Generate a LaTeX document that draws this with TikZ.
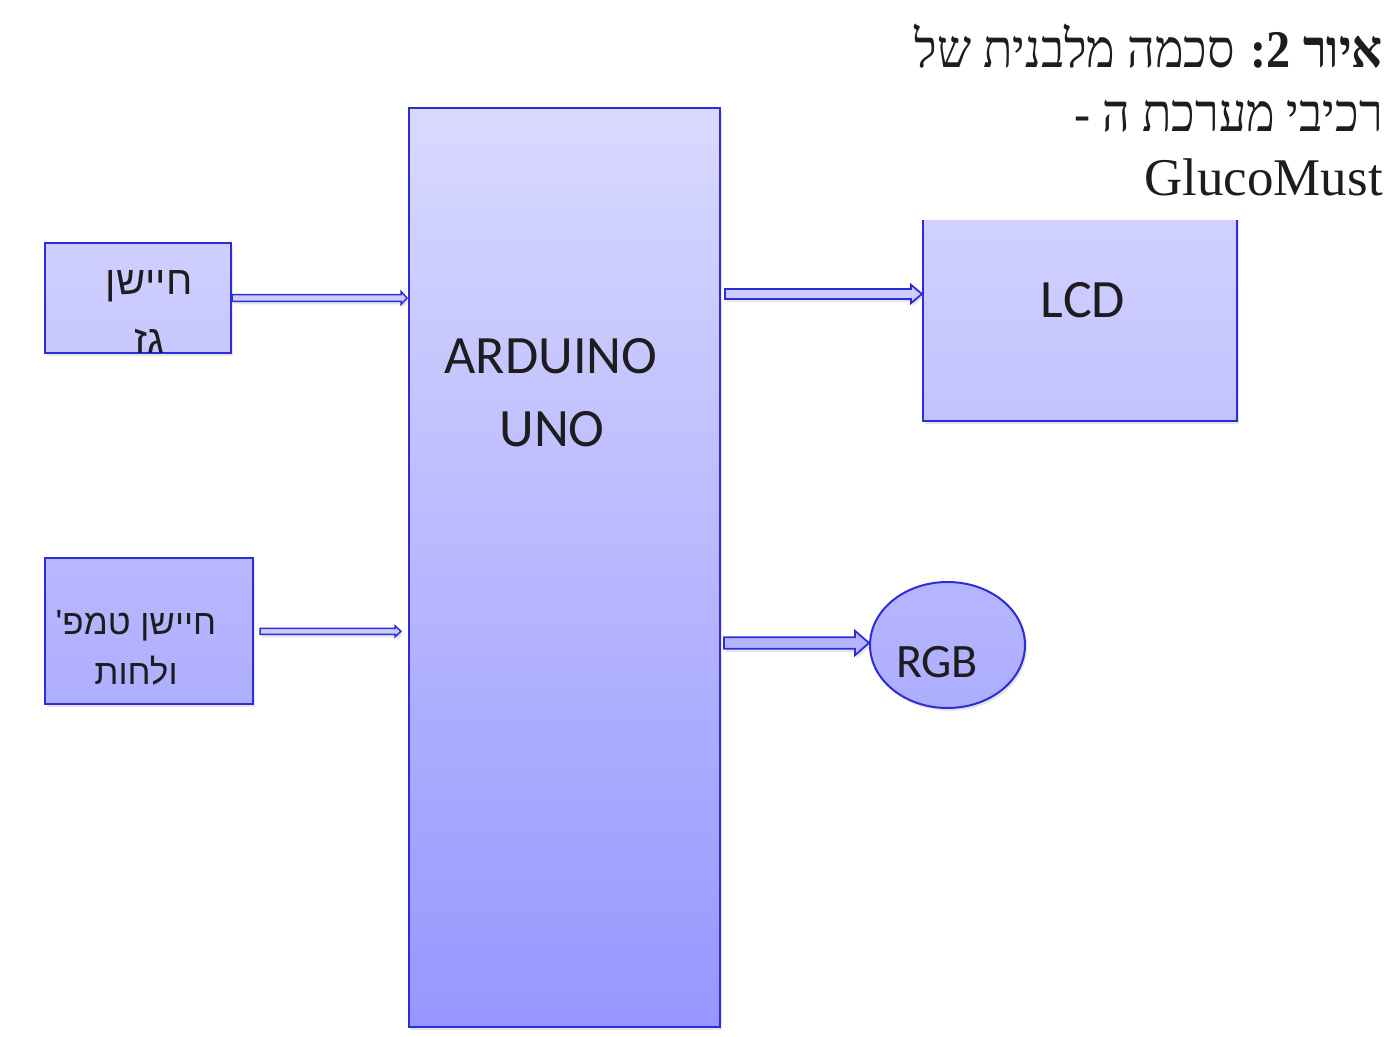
\documentclass[tikz,border=0pt]{standalone}
\usepackage{fontspec}
\setmainfont{Liberation Serif}
\newfontfamily\carl{Carlito}
\newfontfamily\hebsans[Script=Hebrew]{Liberation Sans}
\newfontfamily\hebserif[Script=Hebrew,FakeStretch=0.91]{Liberation Serif}
\TeXXeTstate=1
\usetikzlibrary{calc,shadows,shapes.geometric}
\definecolor{bord}{RGB}{45,45,215}
\definecolor{txtc}{RGB}{30,28,30}
\definecolor{ardtop}{RGB}{217,217,255}
\definecolor{ardbot}{RGB}{150,150,255}
\definecolor{gastop}{RGB}{207,207,255}
\definecolor{gasbot}{RGB}{199,199,255}
\definecolor{tmptop}{RGB}{184,184,255}
\definecolor{tmpbot}{RGB}{174,174,255}
\definecolor{lcdtop}{RGB}{210,210,255}
\definecolor{lcdbot}{RGB}{194,194,255}
\definecolor{rgbtop}{RGB}{182,182,255}
\definecolor{rgbbot}{RGB}{173,173,255}
\definecolor{arrA}{RGB}{204,204,255}
\definecolor{arrB}{RGB}{180,180,255}
\newcommand\blockarrow[6]{%
  \draw[#1] ($(#2)+(0,#4)$) -- ($(#3)+(-#6,#4)$) -- ($(#3)+(-#6,#5)$) -- (#3)
    -- ($(#3)+(-#6,-#5)$) -- ($(#3)+(-#6,-#4)$) -- ($(#2)+(0,-#4)$) -- cycle;}
\begin{document}
\begin{tikzpicture}[x=1pt,y=-1pt,
  shad/.style={drop shadow={opacity=0.2,shadow xshift=2pt,shadow yshift=-3pt}},
  box/.style={draw=bord,line width=2pt,inner sep=0pt,shad},
  txt/.style={inner sep=0pt,anchor=base,text=txtc},
  latin/.style={txt,font=\carl\fontsize{54}{60}\selectfont},
  hebbox/.style={txt,font=\hebsans\fontsize{40}{48}\selectfont},
  ttl/.style={inner sep=0pt,anchor=base east,text=txtc,font=\hebserif\fontsize{53}{64}\selectfont},
  arrthick/.style={draw=bord,line width=1.8pt,line join=miter,shad},
  arrthin/.style={draw=bord,line width=1.5pt,line join=miter,fill=arrA,shad}]
\useasboundingbox (0,0) rectangle (1388,1036);
% boxes
\node[box,minimum width=311pt,minimum height=919pt,top color=ardtop,bottom color=ardbot] (ard) at (564.5,567.5) {};
\node[box,minimum width=186pt,minimum height=110pt,top color=gastop,bottom color=gasbot] (gas) at (138,298) {};
\node[box,minimum width=208pt,minimum height=146pt,top color=tmptop,bottom color=tmpbot] (temp) at (149,631.3) {};
\node[box,minimum width=314pt,minimum height=221pt,top color=lcdtop,bottom color=lcdbot] (lcd) at (1080,310.5) {};
\node[box,ellipse,minimum width=155pt,minimum height=126pt,top color=rgbtop,bottom color=rgbbot] (rgb) at (947.5,645) {};
% title background hides the top of the LCD box
\fill[white] (880,0) rectangle (1388,220);
% texts
\node[latin] (ardt1) at (551,373) {ARDUINO};
\node[latin] (ardt2) at (552,446) {UNO};
\node[latin] (lcdt) at (1083,317) {LCD};
\node[latin,font=\carl\fontsize{48}{56}\selectfont] (rgbt) at (937,677) {RGB};
\node[hebbox] (gast1) at (149,294) {\beginR חיישן\endR};
\begin{scope}
  \clip (gas.south west) rectangle (gas.north east);
  \node[hebbox] (gast2) at (149,353) {\beginR גז\endR};
\end{scope}
\node[hebbox,font=\hebsans\fontsize{35}{42}\selectfont] (tmpt1) at (136,634) {\beginR חיישן טמפ'\endR};
\node[hebbox,font=\hebsans\fontsize{35}{42}\selectfont] (tmpt2) at (136,684) {\beginR ולחות\endR};
\node[ttl] (ttl1) at (1383,67) {\beginR{\bfseries איור 2\kern0pt:} סכמה מלבנית של\endR};
\node[ttl] (ttl2) at (1383,131) {\beginR רכיבי מערכת ה -\endR};
\node[ttl,font=\fontsize{53}{64}\selectfont] (ttl3) at (1383,195) {GlucoMust};
% connectors
\coordinate (g1) at (gas.east);
\coordinate (g2) at ($(gas.east -| ard.west)+(-1,0)$);
\coordinate (t1) at ($(temp.east)+(6,0)$);
\coordinate (t2) at ($(temp.east -| ard.west)+(-7,0)$);
\coordinate (l1) at ($(ard.east |- 0,294)+(4,0)$);
\coordinate (l2) at (l1 -| lcd.west);
\coordinate (r1) at ($(ard.east |- 0,643)+(3,0)$);
\coordinate (r2) at (r1 -| rgb.west);
\blockarrow{arrthin}{g1}{g2}{3.3}{6.6}{6}
\blockarrow{arrthin}{t1}{t2}{3}{5.5}{6}
\blockarrow{arrthick,fill=arrA}{l1}{l2}{5}{9.2}{11}
\blockarrow{arrthick,fill=arrB}{r1}{r2}{5.8}{12.2}{14}
\end{tikzpicture}
\end{document}
